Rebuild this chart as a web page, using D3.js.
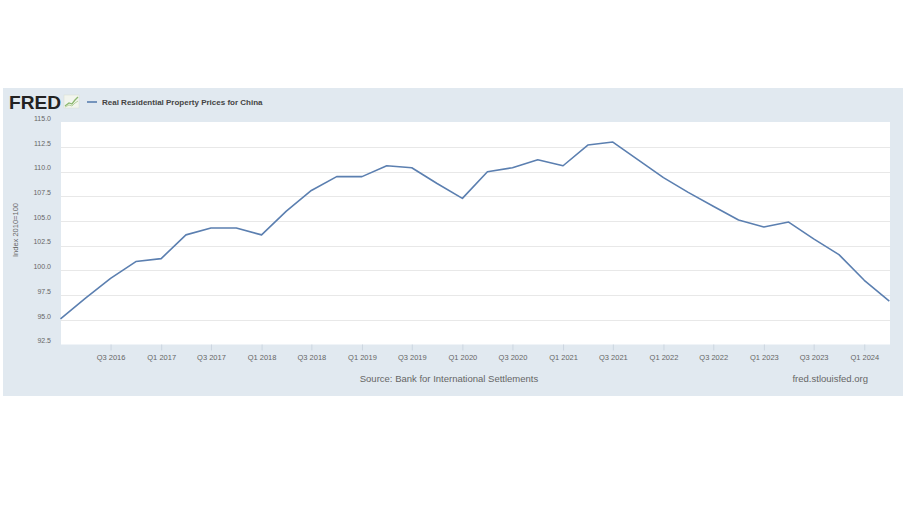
<!DOCTYPE html>
<html>
<head>
<meta charset="utf-8">
<script src="https://cdn.jsdelivr.net/npm/d3@7"></script>
<style>
  html, body { margin: 0; padding: 0; background: #ffffff; }
  svg { display: block; font-family: "Liberation Sans", Arial, sans-serif; }
</style>
</head>
<body>
<svg id="chart" width="906" height="509"></svg>
<script>
// ---- Data ----
const quarters = [
  "2016-01-01","2016-04-01","2016-07-01","2016-10-01",
  "2017-01-01","2017-04-01","2017-07-01","2017-10-01",
  "2018-01-01","2018-04-01","2018-07-01","2018-10-01",
  "2019-01-01","2019-04-01","2019-07-01","2019-10-01",
  "2020-01-01","2020-04-01","2020-07-01","2020-10-01",
  "2021-01-01","2021-04-01","2021-07-01","2021-10-01",
  "2022-01-01","2022-04-01","2022-07-01","2022-10-01",
  "2023-01-01","2023-04-01","2023-07-01","2023-10-01",
  "2024-01-01","2024-04-01"
];
const values = [
  95.1, 97.2, 99.2, 100.9,
  101.2, 103.6, 104.3, 104.3,
  103.6, 106.0, 108.1, 109.5,
  109.5, 110.6, 110.4, 108.8,
  107.3, 110.0, 110.4, 111.2,
  110.6, 112.7, 113.0, 111.2,
  109.4, 107.9, 106.5, 105.1,
  104.4, 104.9, 103.2, 101.6,
  99.0, 96.9
];
const yTicks = [92.5, 95.0, 97.5, 100.0, 102.5, 105.0, 107.5, 110.0, 112.5, 115.0];
const xTickDates = ["2016-07-01","2017-01-01","2017-07-01","2018-01-01","2018-07-01","2019-01-01","2019-07-01","2020-01-01","2020-07-01","2021-01-01","2021-07-01","2022-01-01","2022-07-01","2023-01-01","2023-07-01","2024-01-01"];
const xTickLabels = ["Q3 2016","Q1 2017","Q3 2017","Q1 2018","Q3 2018","Q1 2019","Q3 2019","Q1 2020","Q3 2020","Q1 2021","Q3 2021","Q1 2022","Q3 2022","Q1 2023","Q3 2023","Q1 2024"];
const seriesName = "Real Residential Property Prices for China";
const yTitle = "Index 2010=100";
const sourceText = "Source: Bank for International Settlements";
const siteText = "fred.stlouisfed.org";

// ---- Layout ----
const svg = d3.select("#chart");
const parse = d3.utcParse("%Y-%m-%d");
const data = quarters.map((q, i) => ({ date: parse(q), value: values[i] }));

const plot = { left: 61, right: 890, top: 122, bottom: 344.5 };

const x = d3.scaleUtc()
  .domain(d3.extent(data, d => d.date))
  .range([60.5, 889.3]);
const y = d3.scaleLinear()
  .domain([92.5, 115])
  .range([plot.bottom, plot.top + 0.3]);

// outer frame
svg.append("rect")
  .attr("x", 3).attr("y", 88).attr("width", 900).attr("height", 308)
  .attr("fill", "#e1e9f0");

// plot background
svg.append("rect")
  .attr("x", plot.left).attr("y", plot.top)
  .attr("width", plot.right - plot.left).attr("height", plot.bottom - plot.top)
  .attr("fill", "#ffffff");

// gridlines
svg.append("g").selectAll("line")
  .data(yTicks.filter(t => t > 92.5 && t < 115))
  .join("line")
  .attr("x1", plot.left).attr("x2", plot.right)
  .attr("y1", d => Math.round(y(d)) + 0.5).attr("y2", d => Math.round(y(d)) + 0.5)
  .attr("stroke", "#e8e8e8").attr("stroke-width", 1);

// y tick labels (drawn slightly above their gridlines)
svg.append("g").selectAll("text")
  .data(yTicks)
  .join("text")
  .attr("x", 51)
  .attr("y", d => y(d) - 1.3)
  .attr("text-anchor", "end")
  .attr("font-size", "7px")
  .attr("fill", "#666")
  .text(d => d.toFixed(1));

// y title
svg.append("text")
  .attr("transform", "translate(17.5,230) rotate(-90)")
  .attr("text-anchor", "middle")
  .attr("font-size", "7.5px")
  .attr("fill", "#666")
  .text(yTitle);

// x axis ticks and labels
const xAxis = d3.axisBottom(x)
  .tickValues(xTickDates.map(parse))
  .tickFormat((d, i) => xTickLabels[i])
  .tickSize(6)
  .tickPadding(4);
const gx = svg.append("g")
  .attr("transform", `translate(0,${plot.bottom})`)
  .call(xAxis);
gx.select(".domain").remove();
gx.selectAll(".tick line").attr("stroke", "#ccd6e0");
gx.selectAll(".tick text")
  .attr("font-size", "7.5px")
  .attr("fill", "#666")
  .attr("font-family", "'Liberation Sans', Arial, sans-serif");

// line
const line = d3.line()
  .x(d => x(d.date))
  .y(d => y(d.value));
svg.append("path")
  .datum(data)
  .attr("d", line)
  .attr("fill", "none")
  .attr("stroke", "#5b7fb0")
  .attr("stroke-width", 1.6)
  .attr("stroke-linejoin", "round");

// FRED logo
svg.append("text")
  .attr("x", 9).attr("y", 109)
  .attr("font-size", "19px")
  .attr("font-weight", "900")
  .attr("font-family", "'Liberation Sans', Arial, sans-serif")
  .attr("textLength", 52)
  .attr("lengthAdjust", "spacingAndGlyphs")
  .attr("fill", "#222")
  .text("FRED");
// small logo icon
const icon = svg.append("g").attr("transform", "translate(64,95)");
icon.append("rect").attr("x", 0).attr("y", 0).attr("width", 15).attr("height", 13)
  .attr("fill", "#f2f5ee").attr("stroke", "#d8e0d0").attr("stroke-width", 0.5);
icon.append("path").attr("d", "M1,11 L5,8 L8,9 L11,5 L14,2")
  .attr("fill", "none").attr("stroke", "#8cb870").attr("stroke-width", 1.3);
icon.append("path").attr("d", "M1,12 L5,10 L8,11 L11,8 L14,6")
  .attr("fill", "none").attr("stroke", "#b8d4a0").attr("stroke-width", 1);

// legend
svg.append("line")
  .attr("x1", 87).attr("x2", 97).attr("y1", 102).attr("y2", 102)
  .attr("stroke", "#5b7fb0").attr("stroke-width", 1.6);
svg.append("text")
  .attr("x", 102).attr("y", 105)
  .attr("font-size", "8px")
  .attr("font-weight", "bold")
  .attr("fill", "#444")
  .text(seriesName);

// footer
svg.append("text")
  .attr("x", 449).attr("y", 382)
  .attr("text-anchor", "middle")
  .attr("font-size", "9.5px")
  .attr("fill", "#666")
  .text(sourceText);
svg.append("text")
  .attr("x", 868).attr("y", 382)
  .attr("text-anchor", "end")
  .attr("font-size", "9.5px")
  .attr("fill", "#666")
  .text(siteText);
</script>
</body>
</html>
